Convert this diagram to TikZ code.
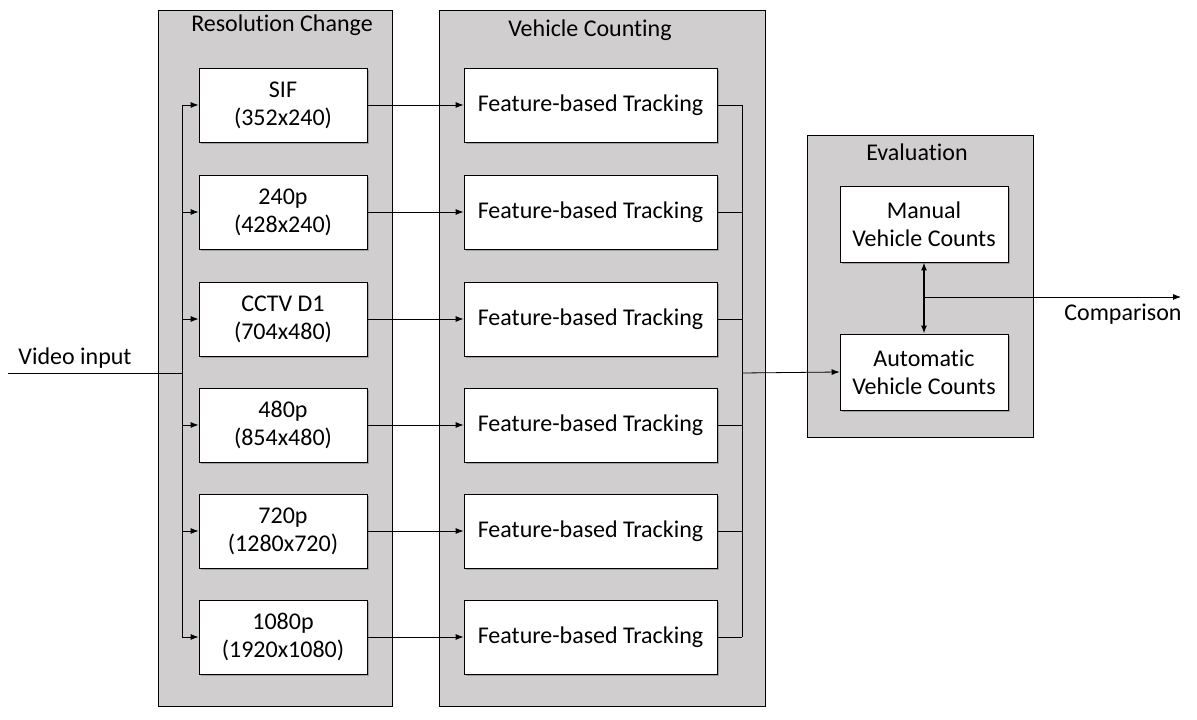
\documentclass[tikz,border=0pt]{standalone}
\usepackage{fontspec}
\setmainfont{Carlito}[Ligatures=NoCommon]
\usetikzlibrary{arrows.meta,shadows}
\definecolor{panelgray}{RGB}{208,206,206}
\begin{document}
\begin{tikzpicture}[x=0.75pt,y=-0.75pt,
  font=\fontsize{18}{21}\selectfont,
  panel/.style={draw=black, line width=0.6pt, fill=panelgray, inner sep=0pt},
  wbox/.style={draw=black, line width=0.6pt, fill=white, align=center, inner sep=0pt,
    drop shadow={shadow xshift=1.6pt, shadow yshift=-1.6pt, opacity=0.35, fill=black!70}},
  resbox/.style={wbox, minimum width=126pt, minimum height=55.5pt},
  fbox/.style={wbox, minimum width=189.75pt, minimum height=55.5pt},
  ebox/.style={wbox, minimum width=126pt, minimum height=57pt},
  conn/.style={line width=0.6pt},
  arr/.style={conn, -{Latex[length=6pt,width=4.5pt]}},
  darr/.style={line width=1.3pt, {Latex[length=6pt,width=4.5pt]}-{Latex[length=6pt,width=4.5pt]}},
  title/.style={inner sep=0pt, anchor=center}
]
\useasboundingbox (0,0) rectangle (1197,720);

% panels
\node[panel, minimum width=175.5pt, minimum height=522pt] (prc) at (275,358) {};
\node[panel, minimum width=244.5pt, minimum height=522pt] (pvc) at (602,358) {};
\node[panel, minimum width=169.5pt, minimum height=226.5pt] (pev) at (920,286) {};
\node[title] (trc) at (282,25) {Resolution Change};
\node[title] (tvc) at (590,30) {Vehicle Counting};
\node[title] (tev) at (917,152) {Evaluation};

% resolution boxes
\node[resbox] (r1) at (283,105) {SIF\\(352x240)};
\node[resbox] (r2) at (283,212) {240p\\(428x240)};
\node[resbox] (r3) at (283,319) {CCTV D1\\(704x480)};
\node[resbox] (r4) at (283,425) {480p\\(854x480)};
\node[resbox] (r5) at (283,531) {720p\\(1280x720)};
\node[resbox] (r6) at (283,637) {1080p\\(1920x1080)};

% feature boxes
\node[fbox] (f1) at (590.5,105) {Feature-based Tracking};
\node[fbox] (f2) at (590.5,212) {Feature-based Tracking};
\node[fbox] (f3) at (590.5,319) {Feature-based Tracking};
\node[fbox] (f4) at (590.5,425) {Feature-based Tracking};
\node[fbox] (f5) at (590.5,531) {Feature-based Tracking};
\node[fbox] (f6) at (590.5,637) {Feature-based Tracking};

% evaluation boxes
\node[ebox] (man) at (924,224) {Manual\\Vehicle Counts};
\node[ebox] (aut) at (924,372) {Automatic\\Vehicle Counts};

% input bus
\coordinate (vin) at (8,373);
\coordinate (lbus) at (182,373);
\coordinate (lb1) at (182,105);
\coordinate (lb6) at (182,637);
\node[inner sep=0pt] (lvin) at (75,358) {Video input};
\draw[conn] (vin) -- (lbus);
\draw[conn] (lb1) -- (lb6);
\foreach \i in {1,...,6} {
  \draw[arr] (r\i.west -| lb1) -- (r\i.west);
  \draw[arr] (r\i.east) -- (f\i.west);
}

% output bus
\coordinate (rb1) at (742,105);
\coordinate (rb6) at (742,637);
\coordinate (rbus) at (742,373);
\draw[conn] (rb1) -- (rb6);
\foreach \i in {1,...,6} {
  \draw[conn] (f\i.east) -- (f\i.east -| rb1);
}
\draw[arr] (rbus) -- (aut.west);

% comparison
\draw[darr] (man.south) -- (aut.north);
\coordinate (cmp) at (924,297);
\coordinate (cmpend) at (1181,297);
\draw[arr] (cmp) -- (cmpend);
\node[inner sep=0pt] (lcmp) at (1123,314) {Comparison};
\end{tikzpicture}
\end{document}
